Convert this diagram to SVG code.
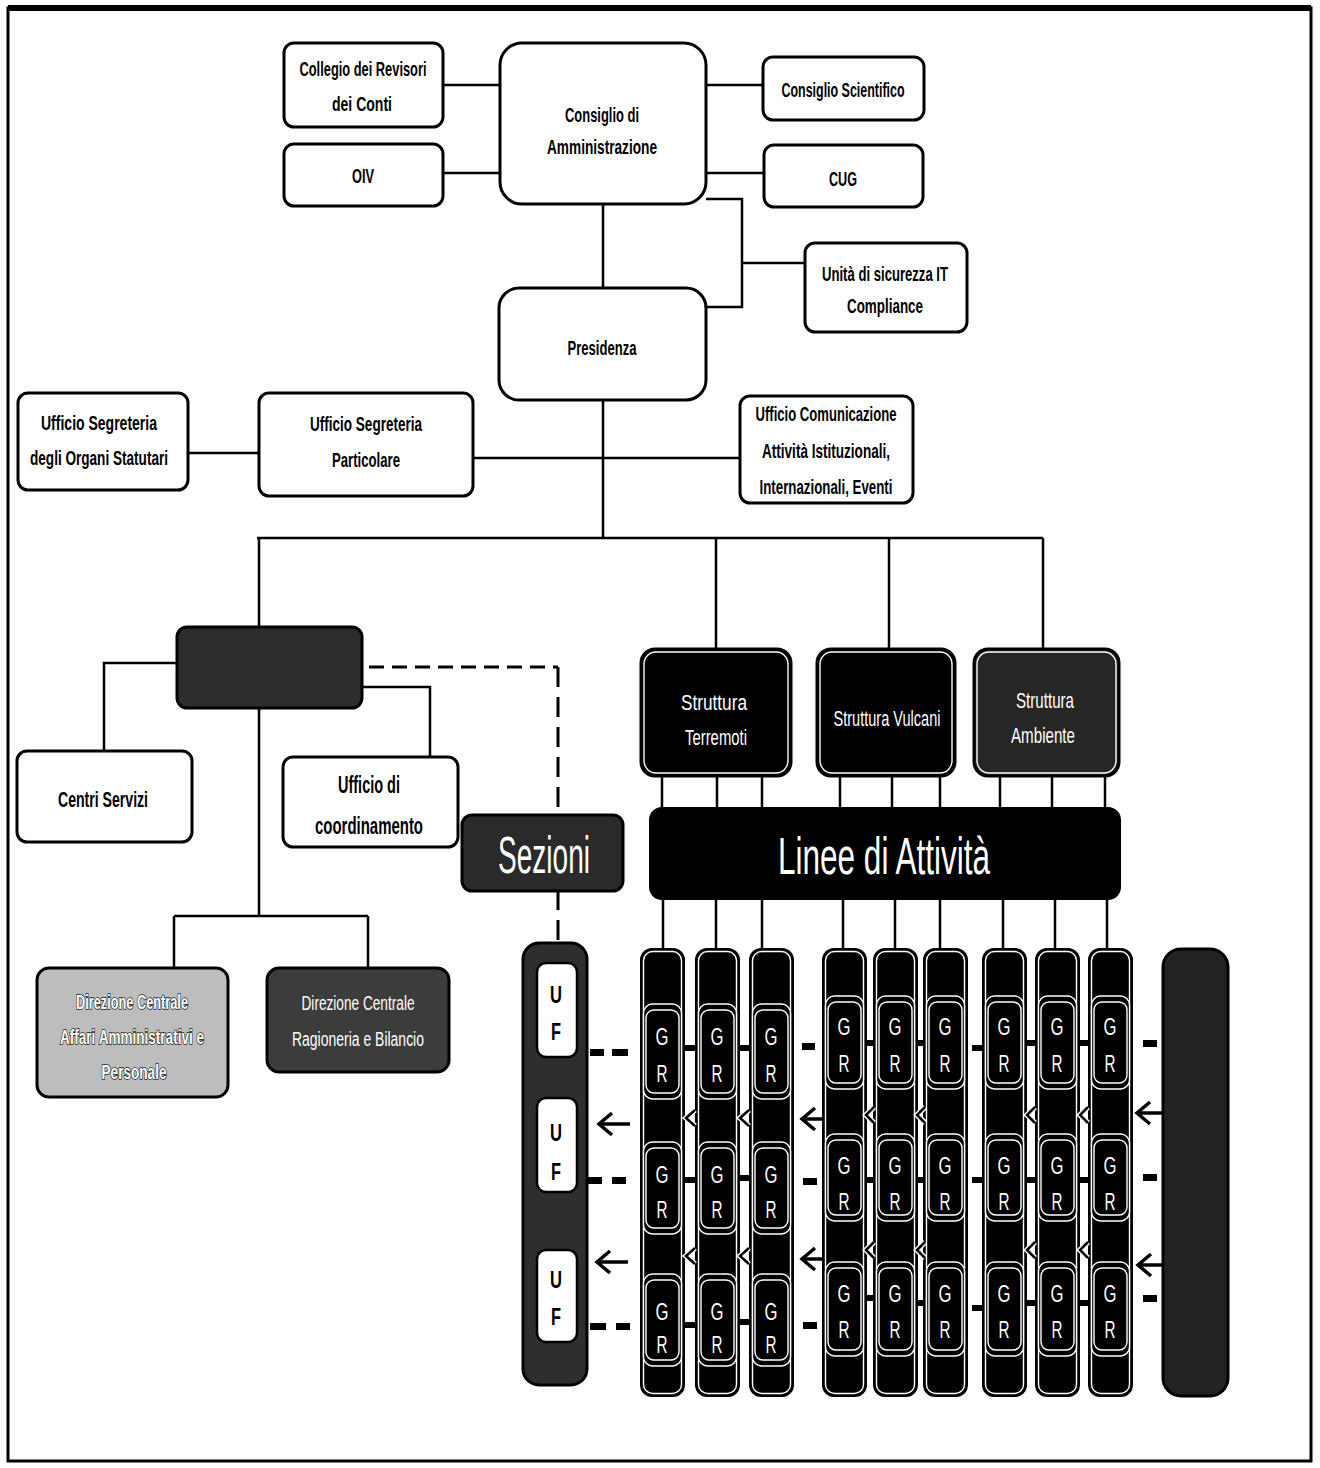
<svg xmlns="http://www.w3.org/2000/svg" xmlns:xlink="http://www.w3.org/1999/xlink" width="1320" height="1468" viewBox="0 0 1320 1468">
<style>
.box{fill:#fff;stroke:#000;stroke-width:3}
.t{font-family:"Liberation Sans Narrow","Liberation Sans",Arial,sans-serif;font-size:20px;fill:#000;text-anchor:middle}
.k{font-weight:bold}
.w{fill:#fff}
.b{font-weight:bold}
.ol{fill:#fff;stroke:#1a1a1a;stroke-width:1.6;paint-order:stroke;font-weight:bold}
.ln{stroke:#000;stroke-width:2.5;fill:none}
.dsh{stroke:#000;stroke-width:3;fill:none}
.blk{fill:#000;stroke:#000;stroke-width:3}
.inw{fill:none;stroke:#fff;stroke-width:1.4}
.seg{fill:#000;stroke:#fff;stroke-width:1.4}
.ar{stroke:#000;stroke-width:3.5;fill:none}
.chw{stroke:#fff;stroke-width:5.5;fill:none}
.chb{stroke:#000;stroke-width:2.5;fill:none}
.d{fill:#000}
</style>
<defs>
<marker id="ah" markerUnits="userSpaceOnUse" markerWidth="18" markerHeight="26" viewBox="0 0 18 26" refX="15" refY="13" orient="auto">
<path d="M2,2 L15,13 L2,24" fill="none" stroke="#000" stroke-width="3.5"/>
</marker>
<g id="colA">
<rect x="0" y="949" width="43" height="447" rx="11" fill="#000" stroke="#000" stroke-width="2"/>
<rect x="2.5" y="951.5" width="38" height="442" rx="9" class="inw"/>
<rect x="2.5" y="1004" width="38" height="95" rx="9" class="seg"/>
<rect x="5" y="1010" width="33" height="83" rx="8" class="seg"/>
<rect x="2.5" y="1142" width="38" height="92" rx="9" class="seg"/>
<rect x="5" y="1148" width="33" height="80" rx="8" class="seg"/>
<rect x="2.5" y="1274" width="38" height="92" rx="9" class="seg"/>
<rect x="5" y="1280" width="33" height="80" rx="8" class="seg"/>
</g>
<g id="colB">
<rect x="0" y="949" width="43" height="447" rx="11" fill="#000" stroke="#000" stroke-width="2"/>
<rect x="2.5" y="951.5" width="38" height="442" rx="9" class="inw"/>
<rect x="2.5" y="996" width="38" height="93" rx="9" class="seg"/>
<rect x="5" y="1002" width="33" height="81" rx="8" class="seg"/>
<rect x="2.5" y="1134" width="38" height="87" rx="9" class="seg"/>
<rect x="5" y="1140" width="33" height="75" rx="8" class="seg"/>
<rect x="2.5" y="1262" width="38" height="94" rx="9" class="seg"/>
<rect x="5" y="1268" width="33" height="82" rx="8" class="seg"/>
</g>
</defs>
<rect width="1320" height="1468" fill="#fff"/>
<g id="frame">
<rect x="8" y="8" width="1303" height="1453" fill="none" stroke="#000" stroke-width="3"/>
<line x1="8" y1="8" x2="1311" y2="8" stroke="#000" stroke-width="6"/>
</g>

<g id="connectors">
<path class="ln" d="M443,85 H500 M443,173 H500 M706,85 H763 M706,173 H764 M603,204 V288 M706,199 H742 V307 H706 M742,263 H805"/>
<path class="ln" d="M188,453 H259 M473,458 H740 M603,400 V538 M257,538 H1043 M259,538 V627 M716,538 V650 M889,538 V650 M1043,538 V650"/>
<path class="ln" d="M177,663 H104 V751 M362,687 H430 V757 M259,708 V916 M174,916 H368 M174,916 V968 M368,916 V968"/>
<path class="dsh" d="M369,667 H558" stroke-dasharray="15 8"/>
<path class="dsh" d="M558,667 V815 M558,890 V943" stroke-dasharray="20 10"/>
<path class="ln" d="M662,776 V808 M717,776 V808 M762,776 V808 M840,776 V808 M892,776 V808 M940,776 V808 M1000,776 V808 M1052,776 V808 M1105,776 V808"/>
<path class="ln" d="M663,899 V949 M716,899 V949 M762,899 V949 M843,899 V949 M895,899 V949 M940,899 V949 M1003,899 V949 M1055,899 V949 M1107,899 V949"/>
</g>

<g id="n-collegio"><rect class="box" x="284" y="43" width="159" height="84" rx="10"/>
<text class="t k" x="363" y="76" textLength="127" lengthAdjust="spacingAndGlyphs">Collegio dei Revisori</text>
<text class="t k" x="362" y="111" textLength="60" lengthAdjust="spacingAndGlyphs">dei Conti</text></g>
<g id="n-oiv"><rect class="box" x="284" y="144" width="159" height="62" rx="10"/>
<text class="t k" x="363" y="183" textLength="22" lengthAdjust="spacingAndGlyphs">OIV</text></g>
<g id="n-cda"><rect class="box" x="500" y="43" width="206" height="161" rx="22"/>
<text class="t k" x="602" y="122" textLength="74" lengthAdjust="spacingAndGlyphs">Consiglio di</text>
<text class="t k" x="602" y="154" textLength="110" lengthAdjust="spacingAndGlyphs">Amministrazione</text></g>
<g id="n-cs"><rect class="box" x="763" y="57" width="161" height="63" rx="10"/>
<text class="t k" x="843" y="97" textLength="123" lengthAdjust="spacingAndGlyphs">Consiglio Scientifico</text></g>
<g id="n-cug"><rect class="box" x="764" y="145" width="159" height="62" rx="10"/>
<text class="t k" x="843" y="186" textLength="28" lengthAdjust="spacingAndGlyphs">CUG</text></g>
<g id="n-it"><rect class="box" x="805" y="243" width="162" height="89" rx="10"/>
<text class="t k" x="885" y="281" textLength="126" lengthAdjust="spacingAndGlyphs">Unità di sicurezza IT</text>
<text class="t k" x="885" y="313" textLength="76" lengthAdjust="spacingAndGlyphs">Compliance</text></g>
<g id="n-pres"><rect class="box" x="499" y="288" width="207" height="112" rx="20"/>
<text class="t k" x="602" y="355" textLength="69" lengthAdjust="spacingAndGlyphs">Presidenza</text></g>
<g id="n-uso"><rect class="box" x="18" y="393" width="170" height="97" rx="10"/>
<text class="t k" x="99" y="430" textLength="116" lengthAdjust="spacingAndGlyphs">Ufficio Segreteria</text>
<text class="t k" x="99" y="465" textLength="138" lengthAdjust="spacingAndGlyphs">degli Organi Statutari</text></g>
<g id="n-usp"><rect class="box" x="259" y="393" width="214" height="103" rx="10"/>
<text class="t k" x="366" y="431" textLength="112" lengthAdjust="spacingAndGlyphs">Ufficio Segreteria</text>
<text class="t k" x="366" y="467" textLength="68" lengthAdjust="spacingAndGlyphs">Particolare</text></g>
<g id="n-com"><rect class="box" x="740" y="396" width="173" height="107" rx="10"/>
<text class="t k" x="826" y="421" textLength="141" lengthAdjust="spacingAndGlyphs">Ufficio Comunicazione</text>
<text class="t k" x="826" y="458" textLength="128" lengthAdjust="spacingAndGlyphs">Attività Istituzionali,</text>
<text class="t k" x="826" y="494" textLength="133" lengthAdjust="spacingAndGlyphs">Internazionali, Eventi</text></g>

<g id="n-dg"><rect x="177" y="627" width="185" height="81" rx="10" fill="#2d2d2d" stroke="#000" stroke-width="3"/></g>
<g id="n-centri"><rect class="box" x="17" y="751" width="175" height="91" rx="10"/>
<text class="t b" x="103" y="807" textLength="90" lengthAdjust="spacingAndGlyphs" style="font-size:22px">Centri Servizi</text></g>
<g id="n-coord"><rect class="box" x="283" y="757" width="175" height="90" rx="10"/>
<text class="t k" x="369" y="793" textLength="62" lengthAdjust="spacingAndGlyphs" style="font-size:24px">Ufficio di</text>
<text class="t k" x="369" y="834" textLength="108" lengthAdjust="spacingAndGlyphs" style="font-size:24px">coordinamento</text></g>
<g id="n-sezioni"><rect x="462" y="815" width="161" height="76" rx="10" fill="#2a2a2a" stroke="#000" stroke-width="3"/>
<text class="t w" x="544" y="873" textLength="92" lengthAdjust="spacingAndGlyphs" style="font-size:52px">Sezioni</text></g>
<g id="n-dcaap"><rect x="37" y="968" width="191" height="129" rx="12" fill="#bdbdbd" stroke="#000" stroke-width="3"/>
<text class="t ol" x="132" y="1009" textLength="112" lengthAdjust="spacingAndGlyphs">Direzione Centrale</text>
<text class="t ol" x="132" y="1044" textLength="144" lengthAdjust="spacingAndGlyphs">Affari Amministrativi e</text>
<text class="t ol" x="134" y="1079" textLength="65" lengthAdjust="spacingAndGlyphs">Personale</text></g>
<g id="n-dcrb"><rect x="267" y="968" width="182" height="104" rx="12" fill="#3c3c3c" stroke="#000" stroke-width="3"/>
<text class="t w" x="358" y="1010" textLength="113" lengthAdjust="spacingAndGlyphs">Direzione Centrale</text>
<text class="t w" x="358" y="1046" textLength="132" lengthAdjust="spacingAndGlyphs">Ragioneria e Bilancio</text></g>

<g id="n-terremoti"><rect class="blk" x="641" y="649" width="150" height="127" rx="14"/>
<rect class="inw" x="644" y="652" width="144" height="121" rx="12"/>
<text class="t w" x="714" y="710" textLength="66" lengthAdjust="spacingAndGlyphs" style="font-size:22px">Struttura</text>
<text class="t w" x="716" y="745" textLength="62" lengthAdjust="spacingAndGlyphs" style="font-size:22px">Terremoti</text></g>
<g id="n-vulcani"><rect class="blk" x="817" y="649" width="138" height="127" rx="14"/>
<rect class="inw" x="820" y="652" width="132" height="121" rx="12"/>
<text class="t w" x="887" y="726" textLength="107" lengthAdjust="spacingAndGlyphs" style="font-size:22px">Struttura Vulcani</text></g>
<g id="n-ambiente"><rect x="974" y="649" width="145" height="127" rx="14" fill="#262626" stroke="#000" stroke-width="3"/>
<rect class="inw" x="977" y="652" width="139" height="121" rx="12"/>
<text class="t w" x="1045" y="708" textLength="58" lengthAdjust="spacingAndGlyphs" style="font-size:22px">Struttura</text>
<text class="t w" x="1043" y="743" textLength="64" lengthAdjust="spacingAndGlyphs" style="font-size:22px">Ambiente</text></g>
<g id="n-linee"><rect x="650" y="808" width="470" height="91" rx="12" fill="#000" stroke="#000" stroke-width="2"/>
<text class="t w" x="884" y="874" textLength="212" lengthAdjust="spacingAndGlyphs" style="font-size:52px">Linee di Attività</text></g>

<g id="n-uf"><rect x="523" y="943" width="64" height="442" rx="16" fill="#2e2e2e" stroke="#000" stroke-width="3"/>
<rect x="537" y="963" width="40" height="94" rx="9" fill="#fff" stroke="#000" stroke-width="2.5"/>
<rect x="537" y="1098" width="40" height="94" rx="9" fill="#fff" stroke="#000" stroke-width="2.5"/>
<rect x="537" y="1250" width="40" height="92" rx="9" fill="#fff" stroke="#000" stroke-width="2.5"/>
<g class="t b" style="font-size:24px">
<text x="556" y="1003" textLength="12" lengthAdjust="spacingAndGlyphs">U</text>
<text x="556" y="1040" textLength="10" lengthAdjust="spacingAndGlyphs">F</text>
<text x="556" y="1141" textLength="12" lengthAdjust="spacingAndGlyphs">U</text>
<text x="556" y="1180" textLength="10" lengthAdjust="spacingAndGlyphs">F</text>
<text x="556" y="1288" textLength="12" lengthAdjust="spacingAndGlyphs">U</text>
<text x="556" y="1325" textLength="10" lengthAdjust="spacingAndGlyphs">F</text>
</g></g>

<g id="n-gr1"><use xlink:href="#colA" x="641"/></g>
<g id="n-gr2"><use xlink:href="#colA" x="696"/></g>
<g id="n-gr3"><use xlink:href="#colA" x="750"/></g>
<g id="n-gr4"><use xlink:href="#colB" x="823"/></g>
<g id="n-gr5"><use xlink:href="#colB" x="874"/></g>
<g id="n-gr6"><use xlink:href="#colB" x="924"/></g>
<g id="n-gr7"><use xlink:href="#colB" x="983"/></g>
<g id="n-gr8"><use xlink:href="#colB" x="1036"/></g>
<g id="n-gr9"><use xlink:href="#colB" x="1089"/></g>
<g id="gr-labels" class="t w" style="font-size:23px">
<text x="662" y="1045" textLength="13" lengthAdjust="spacingAndGlyphs">G</text><text x="662" y="1082" textLength="11" lengthAdjust="spacingAndGlyphs">R</text>
<text x="662" y="1183" textLength="13" lengthAdjust="spacingAndGlyphs">G</text><text x="662" y="1218" textLength="11" lengthAdjust="spacingAndGlyphs">R</text>
<text x="662" y="1320" textLength="13" lengthAdjust="spacingAndGlyphs">G</text><text x="662" y="1353" textLength="11" lengthAdjust="spacingAndGlyphs">R</text>
<text x="717" y="1045" textLength="13" lengthAdjust="spacingAndGlyphs">G</text><text x="717" y="1082" textLength="11" lengthAdjust="spacingAndGlyphs">R</text>
<text x="717" y="1183" textLength="13" lengthAdjust="spacingAndGlyphs">G</text><text x="717" y="1218" textLength="11" lengthAdjust="spacingAndGlyphs">R</text>
<text x="717" y="1320" textLength="13" lengthAdjust="spacingAndGlyphs">G</text><text x="717" y="1353" textLength="11" lengthAdjust="spacingAndGlyphs">R</text>
<text x="771" y="1045" textLength="13" lengthAdjust="spacingAndGlyphs">G</text><text x="771" y="1082" textLength="11" lengthAdjust="spacingAndGlyphs">R</text>
<text x="771" y="1183" textLength="13" lengthAdjust="spacingAndGlyphs">G</text><text x="771" y="1218" textLength="11" lengthAdjust="spacingAndGlyphs">R</text>
<text x="771" y="1320" textLength="13" lengthAdjust="spacingAndGlyphs">G</text><text x="771" y="1353" textLength="11" lengthAdjust="spacingAndGlyphs">R</text>
<text x="844" y="1035" textLength="13" lengthAdjust="spacingAndGlyphs">G</text><text x="844" y="1072" textLength="11" lengthAdjust="spacingAndGlyphs">R</text>
<text x="844" y="1174" textLength="13" lengthAdjust="spacingAndGlyphs">G</text><text x="844" y="1210" textLength="11" lengthAdjust="spacingAndGlyphs">R</text>
<text x="844" y="1302" textLength="13" lengthAdjust="spacingAndGlyphs">G</text><text x="844" y="1338" textLength="11" lengthAdjust="spacingAndGlyphs">R</text>
<text x="895" y="1035" textLength="13" lengthAdjust="spacingAndGlyphs">G</text><text x="895" y="1072" textLength="11" lengthAdjust="spacingAndGlyphs">R</text>
<text x="895" y="1174" textLength="13" lengthAdjust="spacingAndGlyphs">G</text><text x="895" y="1210" textLength="11" lengthAdjust="spacingAndGlyphs">R</text>
<text x="895" y="1302" textLength="13" lengthAdjust="spacingAndGlyphs">G</text><text x="895" y="1338" textLength="11" lengthAdjust="spacingAndGlyphs">R</text>
<text x="945" y="1035" textLength="13" lengthAdjust="spacingAndGlyphs">G</text><text x="945" y="1072" textLength="11" lengthAdjust="spacingAndGlyphs">R</text>
<text x="945" y="1174" textLength="13" lengthAdjust="spacingAndGlyphs">G</text><text x="945" y="1210" textLength="11" lengthAdjust="spacingAndGlyphs">R</text>
<text x="945" y="1302" textLength="13" lengthAdjust="spacingAndGlyphs">G</text><text x="945" y="1338" textLength="11" lengthAdjust="spacingAndGlyphs">R</text>
<text x="1004" y="1035" textLength="13" lengthAdjust="spacingAndGlyphs">G</text><text x="1004" y="1072" textLength="11" lengthAdjust="spacingAndGlyphs">R</text>
<text x="1004" y="1174" textLength="13" lengthAdjust="spacingAndGlyphs">G</text><text x="1004" y="1210" textLength="11" lengthAdjust="spacingAndGlyphs">R</text>
<text x="1004" y="1302" textLength="13" lengthAdjust="spacingAndGlyphs">G</text><text x="1004" y="1338" textLength="11" lengthAdjust="spacingAndGlyphs">R</text>
<text x="1057" y="1035" textLength="13" lengthAdjust="spacingAndGlyphs">G</text><text x="1057" y="1072" textLength="11" lengthAdjust="spacingAndGlyphs">R</text>
<text x="1057" y="1174" textLength="13" lengthAdjust="spacingAndGlyphs">G</text><text x="1057" y="1210" textLength="11" lengthAdjust="spacingAndGlyphs">R</text>
<text x="1057" y="1302" textLength="13" lengthAdjust="spacingAndGlyphs">G</text><text x="1057" y="1338" textLength="11" lengthAdjust="spacingAndGlyphs">R</text>
<text x="1110" y="1035" textLength="13" lengthAdjust="spacingAndGlyphs">G</text><text x="1110" y="1072" textLength="11" lengthAdjust="spacingAndGlyphs">R</text>
<text x="1110" y="1174" textLength="13" lengthAdjust="spacingAndGlyphs">G</text><text x="1110" y="1210" textLength="11" lengthAdjust="spacingAndGlyphs">R</text>
<text x="1110" y="1302" textLength="13" lengthAdjust="spacingAndGlyphs">G</text><text x="1110" y="1338" textLength="11" lengthAdjust="spacingAndGlyphs">R</text>
</g>
<g id="n-right"><rect x="1163" y="949" width="65" height="447" rx="18" fill="#232323" stroke="#000" stroke-width="3"/></g>

<g id="connectors-grid">
<g class="d">
<rect x="590" y="1049" width="14" height="7"/><rect x="612" y="1049" width="16" height="7"/>
<rect x="684" y="1045" width="12" height="6"/><rect x="738" y="1045" width="12" height="6"/>
<rect x="802" y="1043" width="13" height="7"/>
<rect x="866" y="1040" width="7" height="6"/><rect x="917" y="1040" width="7" height="6"/><rect x="972" y="1045" width="10" height="6"/><rect x="1026" y="1040" width="10" height="6"/><rect x="1079" y="1040" width="10" height="6"/>
<rect x="1143" y="1040" width="14" height="7"/>
<rect x="588" y="1177" width="14" height="7"/><rect x="612" y="1177" width="14" height="7"/>
<rect x="684" y="1177" width="12" height="6"/><rect x="738" y="1175" width="12" height="6"/>
<rect x="803" y="1178" width="14" height="7"/>
<rect x="866" y="1177" width="7" height="6"/><rect x="917" y="1177" width="7" height="6"/><rect x="972" y="1177" width="10" height="6"/><rect x="1026" y="1177" width="10" height="6"/><rect x="1079" y="1177" width="10" height="6"/>
<rect x="1143" y="1174" width="14" height="7"/>
<rect x="590" y="1323" width="16" height="7"/><rect x="616" y="1323" width="14" height="7"/>
<rect x="684" y="1322" width="12" height="6"/><rect x="738" y="1319" width="12" height="6"/>
<rect x="803" y="1322" width="14" height="7"/>
<rect x="866" y="1295" width="7" height="6"/><rect x="917" y="1300" width="7" height="6"/><rect x="972" y="1305" width="10" height="6"/><rect x="1026" y="1300" width="10" height="6"/><rect x="1079" y="1300" width="10" height="6"/>
<rect x="1143" y="1295" width="14" height="7"/>
</g>
<path class="ar" marker-end="url(#ah)" d="M630,1124 L599,1124"/>
<path class="ar" marker-end="url(#ah)" d="M628,1262 L597,1262"/>
<path class="ar" marker-end="url(#ah)" d="M823,1119 L802,1119"/>
<path class="ar" marker-end="url(#ah)" d="M823,1259 L802,1259"/>
<path class="ar" marker-end="url(#ah)" d="M1163,1113 L1137,1113"/>
<path class="ar" marker-end="url(#ah)" d="M1163,1265 L1138,1265"/>
<path class="chw" d="M695,1110 L686,1118 L695,1126 M749,1110 L740,1118 L749,1126 M695,1248 L686,1256 L695,1264 M749,1248 L740,1256 L749,1264 M874,1107 L866,1115 L874,1123 M925,1107 L917,1115 L925,1123 M1035,1107 L1027,1115 L1035,1123 M1088,1107 L1080,1115 L1088,1123 M874,1242 L866,1250 L874,1258 M925,1242 L917,1250 L925,1258 M1035,1242 L1027,1250 L1035,1258 M1088,1242 L1080,1250 L1088,1258"/>
<path class="chb" d="M695,1110 L686,1118 L695,1126 M749,1110 L740,1118 L749,1126 M695,1248 L686,1256 L695,1264 M749,1248 L740,1256 L749,1264 M874,1107 L866,1115 L874,1123 M925,1107 L917,1115 L925,1123 M1035,1107 L1027,1115 L1035,1123 M1088,1107 L1080,1115 L1088,1123 M874,1242 L866,1250 L874,1258 M925,1242 L917,1250 L925,1258 M1035,1242 L1027,1250 L1035,1258 M1088,1242 L1080,1250 L1088,1258"/>
</g>
</svg>
